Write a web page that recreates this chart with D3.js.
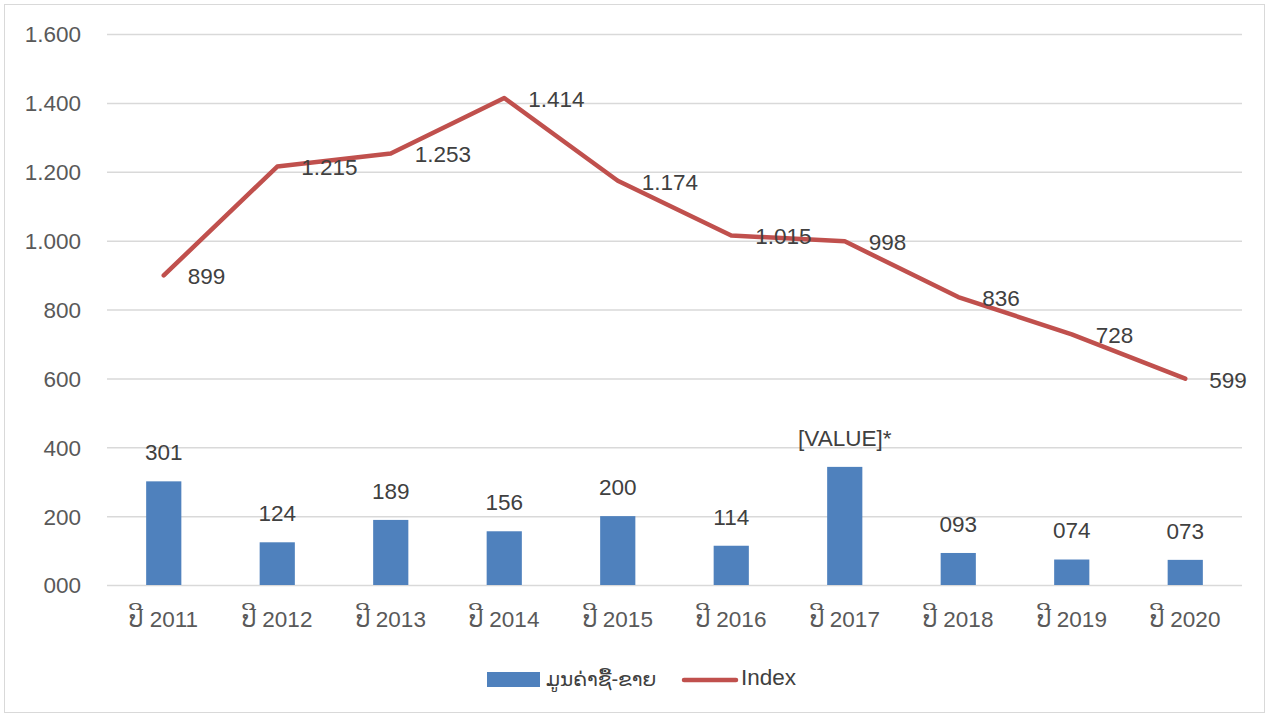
<!DOCTYPE html>
<html lang="lo">
<head>
<meta charset="UTF-8">
<style>
  body { margin: 0; background: #fff; overflow: hidden; }
  svg { display: block; font-family: "Liberation Sans", Arial, "DejaVu Sans", sans-serif; }
  .tick text { fill: #595959; font-size: 22.5px; }
  .lbl { fill: #404040; font-size: 22.5px; }
</style>
</head>
<body>
<svg id="chart" width="1269" height="717"></svg>
<script src="https://cdn.jsdelivr.net/npm/d3@7"></script>
<script>
// data
const years = ["ປີ 2011", "ປີ 2012", "ປີ 2013", "ປີ 2014", "ປີ 2015", "ປີ 2016", "ປີ 2017", "ປີ 2018", "ປີ 2019", "ປີ 2020"];
const trade = [301, 124, 189, 156, 200, 114, 343, 93, 74, 73];
const tradeLabels = ["301", "124", "189", "156", "200", "114", "[VALUE]*", "093", "074", "073"];
const indexVals = [899, 1215, 1253, 1414, 1174, 1015, 998, 836, 728, 599];
const yTicks = [0, 200, 400, 600, 800, 1000, 1200, 1400, 1600];
const seriesNames = ["ມູນຄ່າຊື້-ຂາຍ", "Index"];

const blue = "#4f81bd", red = "#c0504d";
const svg = d3.select("#chart");

// outer frame
svg.append("rect")
  .attr("x", 4.5).attr("y", 4.5).attr("width", 1260).attr("height", 708)
  .attr("fill", "none").attr("stroke", "#d9d9d9");

const plotL = 107, plotR = 1242, plotT = 34, plotB = 585;

const x = d3.scaleBand().domain(years).range([plotL, plotR]).paddingInner(0.69).paddingOuter(0.345);
const xc = d3.scaleBand().domain(years).range([plotL, plotR]);
const y = d3.scaleLinear().domain([0, 1600]).range([plotB, plotT]);

const fmt = v => v >= 1000 ? d3.format(",")(v).replace(/,/g, ".") : String(v).padStart(3, "0");

// y axis with gridlines
const yAxis = svg.append("g")
  .attr("transform", `translate(${plotL},0)`)
  .call(d3.axisLeft(y).tickValues(yTicks).tickFormat(fmt).tickSize(-(plotR - plotL)).tickPadding(26));
yAxis.select(".domain").remove();
yAxis.selectAll(".tick line").attr("stroke", "#d9d9d9").attr("stroke-width", 1.5);
yAxis.selectAll(".tick text").attr("dy", "0.35em");

// x axis labels
const xAxis = svg.append("g")
  .attr("transform", `translate(0,${plotB})`)
  .call(d3.axisBottom(xc).tickSize(0).tickPadding(26));
xAxis.select(".domain").remove();

// bars
svg.append("g").selectAll("rect")
  .data(trade)
  .join("rect")
  .attr("x", (d, i) => x(years[i]))
  .attr("width", x.bandwidth())
  .attr("y", d => y(d))
  .attr("height", d => y(0) - y(d))
  .attr("fill", blue);

svg.append("g").selectAll("text")
  .data(trade)
  .join("text")
  .attr("class", "lbl")
  .attr("text-anchor", "middle")
  .attr("x", (d, i) => xc(years[i]) + xc.bandwidth() / 2)
  .attr("y", d => y(d) - 29)
  .attr("dy", "0.35em")
  .text((d, i) => tradeLabels[i]);

// index line
const line = d3.line()
  .x((d, i) => xc(years[i]) + xc.bandwidth() / 2)
  .y(d => y(d));

svg.append("path")
  .datum(indexVals)
  .attr("d", line)
  .attr("fill", "none")
  .attr("stroke", red)
  .attr("stroke-width", 4.5)
  .attr("stroke-linejoin", "round")
  .attr("stroke-linecap", "round");

svg.append("g").selectAll("text")
  .data(indexVals)
  .join("text")
  .attr("class", "lbl")
  .attr("x", (d, i) => xc(years[i]) + xc.bandwidth() / 2 + 24)
  .attr("y", d => y(d) + 1)
  .attr("dy", "0.35em")
  .text(fmt);

// legend
const lg = svg.append("g");
lg.append("rect").attr("x", 487).attr("y", 672).attr("width", 53).attr("height", 15).attr("fill", blue);
lg.append("text").attr("class", "lbl").attr("x", 546).attr("y", 679).attr("dy", "0.35em")
  .style("font-size", "20px").text(seriesNames[0]);
lg.append("line").attr("x1", 684).attr("x2", 736).attr("y1", 680).attr("y2", 680)
  .attr("stroke", red).attr("stroke-width", 4.5).attr("stroke-linecap", "round");
lg.append("text").attr("class", "lbl").attr("x", 741).attr("y", 677).attr("dy", "0.35em").text(seriesNames[1]);
</script>
</body>
</html>
